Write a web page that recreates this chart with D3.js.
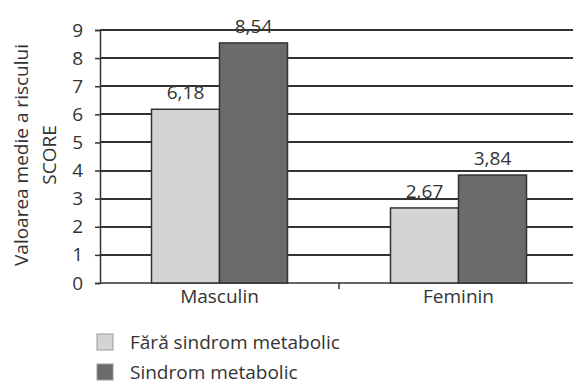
<!DOCTYPE html>
<html><head><meta charset="utf-8">
<script src="https://cdn.jsdelivr.net/npm/d3@7"></script>
<style>body{margin:0;background:#fff}svg{display:block}text{font-family:"Open Sans",sans-serif;fill:#333}</style>
</head><body><svg width="573" height="385"></svg>
<script>
const categories = ["Masculin", "Feminin"];
const seriesNames = ["Fără sindrom metabolic", "Sindrom metabolic"];
const valuesFara = [6.18, 2.67];
const valuesSindrom = [8.54, 3.84];
const yTicks = [0,1,2,3,4,5,6,7,8,9];
const colors = ["#d4d4d4", "#6b6b6b"];

(function(){
const svg = d3.select("svg");
const mLeft = 100, mRight = 578, mTop = 30, mBottom = 283;
const x = d3.scaleBand().domain(categories).range([mLeft, mRight]);
const y = d3.scaleLinear().domain([0, 9]).range([mBottom, mTop]);
const FS = 19;

// gridlines, one path per tick
svg.append("g").selectAll("path").data(yTicks.slice(1)).join("path")
  .attr("d", d => `M${mLeft},${Math.round(y(d))}H573`)
  .attr("fill", "none").attr("stroke", "#333").attr("stroke-width", 2);

// y axis
const ya = svg.append("g").attr("transform", `translate(${mLeft},0)`)
  .call(d3.axisLeft(y).tickValues(yTicks).tickSize(5).tickPadding(12).tickFormat(d3.format("d")));
ya.select(".domain").attr("stroke", "#333").attr("stroke-width", 1.5);
ya.selectAll(".tick line").attr("stroke", "#333").attr("stroke-width", 1.5);
ya.selectAll("text").attr("font-size", FS).attr("fill", "#333").style("font-family", "'Open Sans',sans-serif");

// x axis
const xa = svg.append("g").attr("transform", `translate(0,${mBottom})`)
  .call(d3.axisBottom(x).tickSize(0).tickPadding(7));
xa.select(".domain").attr("d", `M${mLeft},0H573`).attr("stroke", "#333").attr("stroke-width", 1.5);
xa.selectAll("text").attr("font-size", FS).attr("fill", "#333").style("font-family", "'Open Sans',sans-serif");
svg.append("g").selectAll("line").data(categories.slice(1)).join("line")
  .attr("x1", d=>x(d)).attr("x2", d=>x(d)).attr("y1", mBottom).attr("y2", mBottom+6)
  .attr("stroke", "#333").attr("stroke-width", 1.5);

// bars and value labels
const barW = 68;
const series = [valuesFara, valuesSindrom];
series.forEach((vals, si) => {
  const g = svg.append("g");
  const cx = c => x(c) + x.bandwidth()/2 + (si === 0 ? -barW : 0);
  g.selectAll("rect").data(categories).join("rect")
    .attr("x", c => cx(c)).attr("width", barW)
    .attr("y", (c,i) => y(vals[i])).attr("height", (c,i) => mBottom - y(vals[i]))
    .attr("fill", colors[si]).attr("stroke", "#333").attr("stroke-width", 1.5);
  g.selectAll("text").data(categories).join("text")
    .attr("x", c => cx(c) + barW/2).attr("y", (c,i) => y(vals[i]) - 10)
    .attr("text-anchor", "middle").attr("font-size", FS)
    .text((c,i) => d3.format(".2f")(vals[i]).replace(".", ","));
});

// y title
const yt = svg.append("text").attr("transform", "translate(28,155) rotate(-90)")
  .attr("text-anchor", "middle").attr("font-size", FS);
yt.append("tspan").attr("x", 0).attr("dy", 0).text("Valoarea medie a riscului");
yt.append("tspan").attr("x", 0).attr("dy", 28).text("SCORE");

// legend
const lg = svg.append("g").attr("transform", "translate(97,334)");
seriesNames.forEach((n, i) => {
  lg.append("rect").attr("x", 0).attr("y", i*30).attr("width", 16).attr("height", 16)
    .attr("fill", colors[i]).attr("stroke", "#999").attr("stroke-width", 1);
  lg.append("text").attr("x", 33).attr("y", i*30 + 15).attr("font-size", FS).text(n);
});
})();
</script></body></html>
